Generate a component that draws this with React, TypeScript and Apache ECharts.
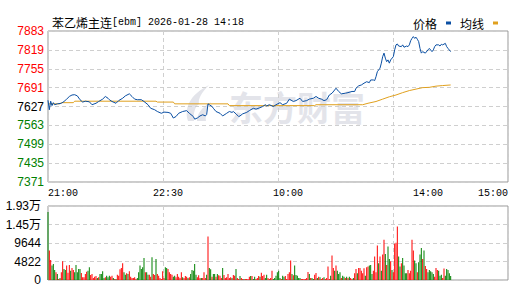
import React, { useEffect, useRef } from 'react';
import * as echarts from 'echarts';

// ---- data ----
const TITLE_NAME = '苯乙烯主连';
const TITLE_INFO = '[ebm] 2026-01-28 14:18';
const TOTAL_MINUTES = 345;
const PREV_CLOSE = 7627;
const PRICE_MIN = 7371;
const PRICE_MAX = 7883;
const PRICE_STEP = 64;
const VOL_MAX = 19288;
const VOL_STEP = 4822;
const timeLabels = ['21:00', '22:30', '10:00', '14:00', '15:00'];
const timeLabelMinutes = [0, 90, 180, 285, 345];

const pricePoints: [number, number][] = [
  [0, 7648], [1, 7616], [2, 7645], [3, 7630], [4, 7640], [5, 7633], [7, 7636], [10, 7638], [12, 7644], [14, 7652],
  [16, 7661], [18, 7666], [20, 7667], [22, 7663], [24, 7650], [26, 7642], [28, 7645], [31, 7643], [33, 7633], [36, 7638],
  [38, 7644], [41, 7652], [43, 7661], [45, 7655], [46, 7650], [48, 7644], [51, 7638], [53, 7647], [56, 7655], [58, 7663],
  [61, 7670], [63, 7661], [65, 7652], [67, 7650], [70, 7650], [72, 7644], [75, 7633], [77, 7621], [80, 7616], [82, 7610],
  [85, 7604], [87, 7608], [90, 7607], [92, 7604], [94, 7588], [96, 7593], [98, 7604], [101, 7610], [104, 7613], [106, 7604],
  [109, 7593], [110, 7584], [112, 7588], [114, 7595], [116, 7599], [118, 7595], [119, 7600], [120, 7636], [121, 7633], [123, 7627],
  [124, 7621], [126, 7610], [129, 7604], [131, 7595], [134, 7604], [136, 7610], [138, 7607], [139, 7610], [141, 7602], [143, 7593],
  [144, 7595], [146, 7602], [149, 7607], [151, 7613], [154, 7621], [156, 7618], [159, 7623], [161, 7627], [163, 7633], [164, 7629],
  [166, 7633], [169, 7627], [171, 7633], [174, 7640], [176, 7633], [179, 7638], [181, 7652], [184, 7644], [186, 7647], [189, 7655],
  [191, 7644], [194, 7647], [196, 7652], [199, 7655], [201, 7661], [203, 7655], [205, 7652], [207, 7647], [209, 7650], [211, 7666],
  [213, 7672], [215, 7683], [216, 7689], [218, 7678], [220, 7670], [223, 7672], [225, 7674], [228, 7678], [230, 7678], [231, 7689],
  [233, 7697], [235, 7700], [237, 7706], [239, 7711], [241, 7708], [242, 7717], [244, 7717], [245, 7715], [246, 7728], [247, 7745],
  [249, 7757], [250, 7774], [251, 7796], [252, 7808], [253, 7791], [254, 7779], [255, 7785], [256, 7774], [257, 7785], [259, 7796],
  [260, 7819], [261, 7836], [262, 7839], [263, 7832], [265, 7830], [266, 7836], [267, 7828], [269, 7832], [270, 7830], [271, 7836],
  [272, 7850], [273, 7858], [274, 7864], [275, 7858], [276, 7862], [277, 7855], [278, 7847], [279, 7824], [280, 7808], [281, 7813],
  [283, 7808], [285, 7819], [286, 7824], [288, 7813], [289, 7819], [290, 7830], [291, 7836], [293, 7836], [294, 7832], [295, 7838],
  [296, 7836], [298, 7841], [299, 7830], [300, 7824], [302, 7813],
];

const avgPoints: [number, number][] = [
  [0, 7636], [9, 7636], [10, 7640], [19, 7640], [20, 7645], [81, 7645], [82, 7642], [94, 7642], [95, 7636], [135, 7636],
  [136, 7630], [200, 7630], [201, 7633], [236, 7633], [240, 7638], [246, 7644], [251, 7652], [256, 7660], [261, 7666],
  [266, 7674], [271, 7681], [276, 7686], [281, 7691], [286, 7692], [291, 7696], [296, 7698], [302, 7700],
];

const volumes: number[] = [
  17700, 7670, 5230, 3750, 4190, 2620, 2010, 1570, 260, 520,
  2010, 4880, 2880, 2620, 3750, 1920, 3920, 2440, 3140, 2620,
  2010, 3920, 2010, 2880, 2880, 1830, 700, 700, 1570, 2180,
  2440, 3310, 1310, 1570, 520, 870, 1050, 520, 700, 1570,
  1570, 2270, 520, 700, 1130, 700, 1130, 870, 1130, 520,
  260, 260, 1400, 1130, 2790, 3140, 4360, 2010, 1400, 1740,
  1570, 2270, 870, 520, 520, 700, 260, 520, 2010, 3750,
  2880, 3310, 5760, 2010, 2010, 1400, 1400, 870, 5930, 1570,
  1310, 5490, 1570, 1130, 520, 260, 2270, 520, 3310, 3140,
  2880, 2010, 1570, 1400, 870, 1130, 700, 1570, 870, 520,
  2010, 700, 520, 1050, 870, 520, 700, 1570, 2620, 2440,
  4190, 1400, 700, 1220, 520, 520, 520, 2010, 520, 1400,
  11340, 3140, 2790, 870, 1570, 1570, 870, 1570, 1220, 1130,
  520, 3140, 1310, 520, 700, 1570, 520, 700, 520, 1310,
  1130, 2880, 520, 260, 1050, 520, 260, 260, 260, 260,
  260, 870, 1050, 1050, 260, 870, 260, 520, 1050, 870,
  1920, 1050, 1400, 520, 1400, 520, 260, 520, 2440, 260,
  520, 1130, 2010, 2440, 520, 260, 1130, 870, 1050, 260,
  1570, 2010, 5060, 1570, 1220, 3750, 1310, 1130, 520, 520,
  260, 260, 260, 260, 520, 2090, 1570, 520, 520, 260,
  1400, 1830, 520, 870, 700, 260, 520, 700, 260, 520,
  3490, 260, 1130, 6370, 3140, 2440, 3750, 2440, 1570, 2010,
  520, 1130, 870, 520, 870, 520, 870, 520, 260, 520,
  1740, 2880, 1740, 3140, 3140, 2440, 1740, 3050, 1130, 3310,
  3490, 3750, 3920, 1570, 2440, 6100, 2010, 8980, 4360, 6100,
  2440, 6630, 10460, 6800, 3920, 8720, 5490, 4880, 2620, 2010,
  9420, 9680, 13950, 6100, 3490, 4360, 5760, 3750, 1740, 1740,
  2620, 1740, 2440, 10460, 7670, 5060, 4360, 2010, 4620, 6630,
  8370, 5490, 7670, 3660, 2880, 2010, 2620, 2270, 2010, 1570,
  870, 3140, 2620, 2440, 1130, 1400, 520, 2970, 1130, 2880,
  2620, 1740, 1050,
];

// r = up minute (red), g = down minute (green)
const volumeDirections =
  'grrgggrgrg' + 'rrggrrrgrr' + 'gggggrrrrr' + 'ggrrrrrgrg' + 'gggrgggrrg' +
  'rgrrrrrggr' + 'grrrrrrggg' + 'gggrggrrgr' + 'rgrrrrrrgg' + 'rrrrggrrrr' +
  'rgrrrgrggg' + 'ggrrrgrrrg' + 'rggrggrgrr' + 'rgrrrrrrgr' + 'rgrrgrrgrr' +
  'rrgrggrrrg' + 'rrrggrrrrg' + 'gggggrggrr' + 'rrrgrggggg' + 'rrrrrrgrgg' +
  'rrgrgrrgrr' + 'rrgrrgrggg' + 'rggrgrgrrg' + 'rrgrrrrrgr' + 'rgggrrrrgr' +
  'grrgrggrgr' + 'rrrggrgggg' + 'rrrrrggrgg' + 'grgrrggggg' + 'rrrgggrrgg' +
  'ggg';

// ---- styles ----
const RED = '#ff0000';
const GREEN = '#008000';
const PRICE_COLOR = '#0a4fa3';
const AVG_COLOR = '#e0a01e';
const GRID_LINE = '#cfcfcf';
const BORDER = '#999999';

const logoPath =
  'M4 36 C 0 24 5 10 25 0 C 17 8 14 14 15 19 C 11 22 9 28 10 36 Z M13 36 C 13 29 17 23 27 17 C 23 23 21 29 22 36 Z';
echarts.graphic.registerShape('emLogo', echarts.graphic.extendPath(logoPath, {}) as any);

function volLabel(v: number): string {
  if (v >= 10000) return (v / 10000).toFixed(2) + '万';
  return String(Math.round(v));
}

export default function App() {
  const ref = useRef<HTMLDivElement>(null);
  useEffect(() => {
    document.body.style.margin = '0';
    const chart = echarts.init(ref.current!, null, { renderer: 'svg' });
    const volData = volumes.map((v, i) => ({
      value: [i, v],
      itemStyle: { color: volumeDirections[i] === 'r' ? RED : GREEN },
    }));
    const splitLine = { show: true, lineStyle: { color: GRID_LINE, type: [4, 3] as any, width: 1 } };
    chart.setOption({
      animation: false,
      backgroundColor: '#ffffff',
      title: {
        text: '{a|' + TITLE_NAME + '}{b|' + TITLE_INFO + '}',
        left: 47,
        top: 11,
        textStyle: {
          fontWeight: 'normal',
          rich: {
            a: { fontSize: 12, fontWeight: 'normal', fontFamily: '"Noto Sans CJK SC"', color: '#000' },
            b: { fontSize: 10, fontWeight: 'normal', fontFamily: '"Liberation Mono"', color: '#000' },
          },
        },
      },
      legend: {
        right: 10,
        top: 12,
        align: 'right',
        icon: 'rect',
        itemWidth: 5,
        itemHeight: 3,
        itemGap: 9,
        data: ['价格', '均线'],
        textStyle: { fontSize: 12, fontFamily: '"Noto Sans CJK SC"', color: '#000', padding: [0, 4, 0, 0] },
      },
      graphic: [
        {
          type: 'emLogo',
          x: 184,
          y: 85,
          scaleX: 1,
          scaleY: 1,
          z: 0,
          style: { fill: '#e3e4ea' },
        },
        {
          type: 'text',
          x: 229,
          y: 106,
          z: 0,
          style: {
            text: '东方财富',
            font: 'bold 34px "Noto Sans CJK SC"',
            fill: '#e3e4ea',
            verticalAlign: 'middle',
          },
        },
      ],
      grid: [
        { left: 48, top: 31, width: 460, height: 151, show: true, borderColor: BORDER, borderWidth: 1 },
        { left: 48, top: 206, width: 460, height: 74, show: true, borderColor: BORDER, borderWidth: 1 },
      ],
      xAxis: [
        {
          type: 'value',
          gridIndex: 0,
          min: 0,
          max: TOTAL_MINUTES,
          interval: TOTAL_MINUTES / 4,
          axisLine: { show: false },
          axisTick: { show: false },
          splitLine,
          axisLabel: {
            customValues: timeLabelMinutes,
            alignMinLabel: 'left',
            alignMaxLabel: 'right',
            margin: 6,
            fontSize: 10,
            fontFamily: '"Liberation Mono"',
            color: '#000',
            formatter: (v: number) => {
              const idx = timeLabelMinutes.indexOf(Math.round(v));
              return idx >= 0 ? timeLabels[idx] : '';
            },
          },
        },
        {
          type: 'value',
          gridIndex: 1,
          min: 0,
          max: TOTAL_MINUTES,
          interval: TOTAL_MINUTES / 4,
          axisLine: { show: false },
          axisTick: { show: false },
          axisLabel: { show: false },
          splitLine,
        },
      ],
      yAxis: [
        {
          type: 'value',
          gridIndex: 0,
          min: PRICE_MIN,
          max: PRICE_MAX,
          interval: PRICE_STEP,
          axisLine: { show: false },
          axisTick: { show: false },
          splitLine,
          axisLabel: {
            margin: 4,
            fontSize: 12,
            fontFamily: '"Liberation Sans", Arial',
            formatter: (v: number) => String(Math.round(v)),
            color: (v: any) => {
              const n = Number(v);
              return n > PREV_CLOSE ? RED : n < PREV_CLOSE ? GREEN : '#000';
            },
          },
        },
        {
          type: 'value',
          gridIndex: 1,
          min: 0,
          max: VOL_MAX,
          interval: VOL_STEP,
          axisLine: { show: false },
          axisTick: { show: false },
          splitLine,
          axisLabel: {
            margin: 7,
            fontSize: 12,
            fontFamily: '"Liberation Sans", "Noto Sans CJK SC"',
            color: '#000',
            formatter: volLabel,
          },
        },
      ],
      series: [
        {
          name: '均线',
          type: 'line',
          xAxisIndex: 0,
          yAxisIndex: 0,
          data: avgPoints,
          showSymbol: false,
          symbol: 'none',
          color: AVG_COLOR,
          lineStyle: { color: AVG_COLOR, width: 1 },
          z: 3,
        },
        {
          name: '价格',
          type: 'line',
          xAxisIndex: 0,
          yAxisIndex: 0,
          data: pricePoints,
          showSymbol: false,
          symbol: 'none',
          color: PRICE_COLOR,
          lineStyle: { color: PRICE_COLOR, width: 1 },
          z: 4,
        },
        {
          name: '成交量',
          type: 'bar',
          xAxisIndex: 1,
          yAxisIndex: 1,
          data: volData,
          barWidth: 1,
          z: 3,
        },
      ],
    });
    return () => chart.dispose();
  }, []);
  return <div ref={ref} style={{ width: 513, height: 292 }} />;
}
